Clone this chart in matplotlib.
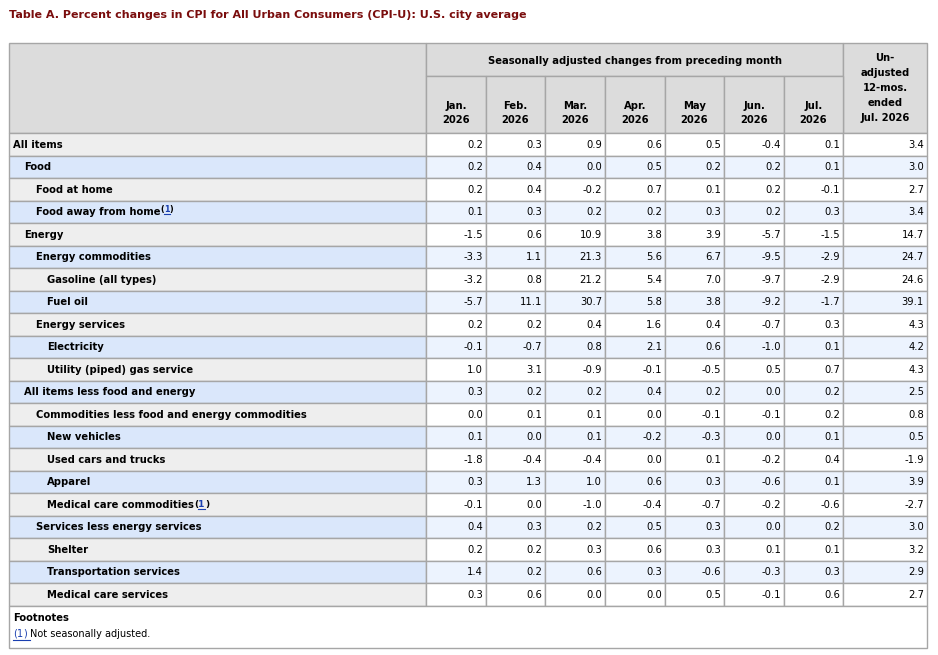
import matplotlib
matplotlib.use('Agg')
import matplotlib.pyplot as plt
from matplotlib.patches import Rectangle

title = 'Table A. Percent changes in CPI for All Urban Consumers (CPI-U): U.S. city average'
group_header = 'Seasonally adjusted changes from preceding month'
months = ['Jan.\n2026', 'Feb.\n2026', 'Mar.\n2026', 'Apr.\n2026', 'May\n2026', 'Jun.\n2026', 'Jul.\n2026']
annual_header = 'Un-\nadjusted\n12-mos.\nended\nJul. 2026'

items = ['All items', 'Food', 'Food at home', 'Food away from home', 'Energy',
         'Energy commodities', 'Gasoline (all types)', 'Fuel oil', 'Energy services',
         'Electricity', 'Utility (piped) gas service', 'All items less food and energy',
         'Commodities less food and energy commodities', 'New vehicles',
         'Used cars and trucks', 'Apparel', 'Medical care commodities',
         'Services less energy services', 'Shelter', 'Transportation services',
         'Medical care services']
levels = [0, 1, 2, 2, 1, 2, 3, 3, 2, 3, 3, 1, 2, 3, 3, 3, 3, 2, 3, 3, 3]
footnoted = ['Food away from home', 'Medical care commodities']

jan = [0.2, 0.2, 0.2, 0.1, -1.5, -3.3, -3.2, -5.7, 0.2, -0.1, 1.0, 0.3, 0.0, 0.1, -1.8, 0.3, -0.1, 0.4, 0.2, 1.4, 0.3]
feb = [0.3, 0.4, 0.4, 0.3, 0.6, 1.1, 0.8, 11.1, 0.2, -0.7, 3.1, 0.2, 0.1, 0.0, -0.4, 1.3, 0.0, 0.3, 0.2, 0.2, 0.6]
mar = [0.9, 0.0, -0.2, 0.2, 10.9, 21.3, 21.2, 30.7, 0.4, 0.8, -0.9, 0.2, 0.1, 0.1, -0.4, 1.0, -1.0, 0.2, 0.3, 0.6, 0.0]
apr = [0.6, 0.5, 0.7, 0.2, 3.8, 5.6, 5.4, 5.8, 1.6, 2.1, -0.1, 0.4, 0.0, -0.2, 0.0, 0.6, -0.4, 0.5, 0.6, 0.3, 0.0]
may = [0.5, 0.2, 0.1, 0.3, 3.9, 6.7, 7.0, 3.8, 0.4, 0.6, -0.5, 0.2, -0.1, -0.3, 0.1, 0.3, -0.7, 0.3, 0.3, -0.6, 0.5]
jun = [-0.4, 0.2, 0.2, 0.2, -5.7, -9.5, -9.7, -9.2, -0.7, -1.0, 0.5, 0.0, -0.1, 0.0, -0.2, -0.6, -0.2, 0.0, 0.1, -0.3, -0.1]
jul = [0.1, 0.1, -0.1, 0.3, -1.5, -2.9, -2.9, -1.7, 0.3, 0.1, 0.7, 0.2, 0.2, 0.1, 0.4, 0.1, -0.6, 0.2, 0.1, 0.3, 0.6]
yoy = [3.4, 3.0, 2.7, 3.4, 14.7, 24.7, 24.6, 39.1, 4.3, 4.2, 4.3, 2.5, 0.8, 0.5, -1.9, 3.9, -2.7, 3.0, 3.2, 2.9, 2.7]

footnote_text = 'Not seasonally adjusted.'

# colours
line_c = '#a6a6a6'
head_bg = '#dcdcdc'
lab_grey = '#eeeeee'
lab_blue = '#dae7fb'
dat_blue = '#ecf3fe'
link_c = '#1a3fb0'

W, H = 938, 655
fig = plt.figure(figsize=(W / 100, H / 100), dpi=100)
ax = fig.add_axes([0, 0, 1, 1])
ax.set_xlim(0, W)
ax.set_ylim(H, 0)
ax.axis('off')
plt.rcParams['font.family'] = 'DejaVu Sans'
fs = 7.2

# table frame geometry (pixels)
left, right = 9, 927
top, mid, head_bot = 43, 76, 133
row_h = 22.5
col_x = [426, 486, 545, 605, 665, 724, 784, 843, right]
body_bot = head_bot + row_h * len(items)
bottom = 648


def cell(x0, y0, x1, y1, fc):
    ax.add_patch(Rectangle((x0, y0), x1 - x0, y1 - y0, facecolor=fc,
                           edgecolor=line_c, linewidth=1))


ax.text(left, 15, title, color='#7a0d0d', fontsize=8.0, fontweight='bold',
        va='center', ha='left')

# header
cell(left, top, col_x[0], head_bot, head_bg)
cell(col_x[0], top, col_x[7], mid, head_bg)
cell(col_x[7], top, right, head_bot, head_bg)
ax.text((col_x[0] + col_x[7]) / 2, (top + mid) / 2 + 1, group_header,
        fontsize=fs, fontweight='bold', ha='center', va='center')
for i, m in enumerate(months):
    cell(col_x[i], mid, col_x[i + 1], head_bot, head_bg)
    ax.text((col_x[i] + col_x[i + 1]) / 2, 113, m, fontsize=fs,
            fontweight='bold', ha='center', va='center', linespacing=1.6)
ax.text((col_x[7] + right) / 2, 88, annual_header, fontsize=fs,
        fontweight='bold', ha='center', va='center', linespacing=1.6)

# body
cols = [jan, feb, mar, apr, may, jun, jul, yoy]
renderer = fig.canvas.get_renderer()
for r, name in enumerate(items):
    y0 = head_bot + r * row_h
    y1 = y0 + row_h
    yc = (y0 + y1) / 2 + 0.5
    blue = r % 2 == 1
    cell(left, y0, col_x[0], y1, lab_blue if blue else lab_grey)
    t = ax.text(13 + 11.3 * levels[r], yc, name, fontsize=fs,
                fontweight='bold', ha='left', va='center')
    if name in footnoted:
        sup = name == 'Food away from home'
        fsz = 5.8 if sup else 6.6
        yy = yc - 3 if sup else yc
        x = t.get_window_extent(renderer).x1 + 0.5
        for piece, col in [('(', 'black'), ('1', link_c), (')', 'black')]:
            p = ax.text(x, yy, piece, fontsize=fsz, fontweight='bold',
                        color=col, ha='left', va='center')
            bb = p.get_window_extent(renderer)
            if piece == '1':
                ax.plot([bb.x0, bb.x1], [yy + 4.5, yy + 4.5], color=link_c, lw=0.8)
            x = bb.x1
    for c, vals in enumerate(cols):
        cell(col_x[c], y0, col_x[c + 1], y1, dat_blue if blue else 'white')
        ax.text(col_x[c + 1] - 3, yc, f'{vals[r]:.1f}', fontsize=fs,
                ha='right', va='center')

# footnotes
ax.add_patch(Rectangle((left, body_bot), right - left, bottom - body_bot,
                       facecolor='white', edgecolor=line_c, linewidth=1))
ax.text(13, 618, 'Footnotes', fontsize=fs, fontweight='bold', va='center')
x = 13
for piece in ['(', '1', ')']:
    p = ax.text(x, 634, piece, fontsize=7.0, color=link_c, va='center', ha='left')
    x = p.get_window_extent(renderer).x1
x += 3
ax.plot([13, x], [639.5, 639.5], color=link_c, lw=0.8)
ax.text(x, 634, footnote_text, fontsize=7.0, va='center', ha='left')

fig.savefig('out.png', dpi=100)
